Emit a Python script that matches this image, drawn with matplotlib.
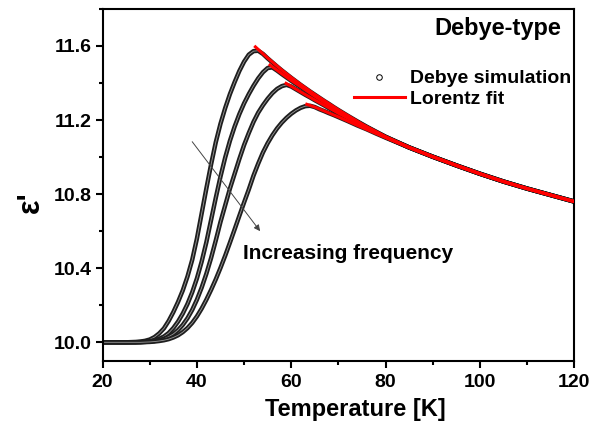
import matplotlib
matplotlib.use('Agg')
import matplotlib.pyplot as plt
from matplotlib.lines import Line2D
from matplotlib.ticker import MultipleLocator

plt.rcParams['font.family'] = ['Liberation Sans', 'DejaVu Sans']
plt.rcParams['font.weight'] = 'bold'

# temperature grid [K] shared by the four simulated curves
temps = list(range(20, 71)) + [72, 74, 76, 78, 80, 85, 90, 95, 100, 105, 110, 115, 120]

# common high temperature tail (T = 85 ... 120)
tail = [11.052, 11.002, 10.955, 10.91, 10.868, 10.83, 10.795, 10.76]

# Debye simulation, lowest to highest frequency
eps_f1 = [10.0] * 6 + [
    10.001, 10.002, 10.004, 10.008,
    10.015, 10.028, 10.048, 10.075, 10.115, 10.163, 10.218, 10.280, 10.355, 10.445,
    10.560, 10.695, 10.830, 10.960, 11.080, 11.180, 11.265, 11.340, 11.405, 11.465,
    11.515, 11.553, 11.572, 11.574, 11.557, 11.533, 11.511, 11.489, 11.468, 11.448,
    11.428, 11.409, 11.390, 11.372, 11.354, 11.337, 11.320, 11.303, 11.287, 11.270,
    11.254, 11.223, 11.193, 11.164, 11.137, 11.110] + tail
eps_f2 = [10.0] * 8 + [
    10.001, 10.003,
    10.006, 10.011, 10.019, 10.031, 10.050, 10.077, 10.112, 10.155, 10.207, 10.270,
    10.345, 10.435, 10.540, 10.660, 10.780, 10.895, 10.998, 11.088, 11.165, 11.232,
    11.290, 11.340, 11.385, 11.425, 11.458, 11.481, 11.484, 11.467, 11.448, 11.430,
    11.412, 11.395, 11.378, 11.361, 11.344, 11.327, 11.311, 11.295, 11.279, 11.263,
    11.247, 11.218, 11.190, 11.162, 11.135, 11.109] + tail
eps_f3 = [10.0] * 8 + [
    10.001, 10.002,
    10.004, 10.007, 10.012, 10.019, 10.030, 10.045, 10.066, 10.094, 10.130, 10.175,
    10.230, 10.295, 10.370, 10.455, 10.550, 10.650, 10.740, 10.830, 10.910, 10.990,
    11.065, 11.130, 11.190, 11.240, 11.280, 11.315, 11.345, 11.368, 11.383, 11.390,
    11.381, 11.366, 11.351, 11.336, 11.322, 11.307, 11.293, 11.279, 11.264, 11.250,
    11.236, 11.210, 11.184, 11.158, 11.133, 11.108] + tail
eps_f4 = [10.0] * 9 + [
    10.001,
    10.002, 10.004, 10.007, 10.011, 10.017, 10.026, 10.038, 10.055, 10.077, 10.105,
    10.140, 10.182, 10.230, 10.283, 10.340, 10.402, 10.468, 10.538, 10.610, 10.683,
    10.755, 10.825, 10.900, 10.965, 11.025, 11.075, 11.118, 11.155, 11.186, 11.212,
    11.234, 11.252, 11.266, 11.275, 11.277, 11.270, 11.258, 11.248, 11.237, 11.227,
    11.216, 11.194, 11.171, 11.150, 11.127, 11.105] + tail

# Lorentz fits
fit_t1 = [52.4, 55, 58, 60, 62, 65, 70, 75, 80, 85, 90, 95, 100, 105, 110, 115, 120]
fit_e1 = [11.595, 11.535, 11.47, 11.43, 11.392, 11.338, 11.255, 11.178, 11.11,
          11.052, 11.002, 10.955, 10.91, 10.868, 10.83, 10.795, 10.76]
fit_t2 = [55.5, 58, 60, 62, 65, 70, 75, 80, 85, 90, 95, 100, 105, 110, 115, 120]
fit_e2 = [11.497, 11.45, 11.414, 11.38, 11.328, 11.248, 11.175, 11.109,
          11.052, 11.002, 10.955, 10.91, 10.868, 10.83, 10.795, 10.76]
fit_t3 = [58.9, 60, 62, 65, 70, 75, 80, 85, 90, 95, 100, 105, 110, 115, 120]
fit_e3 = [11.398, 11.382, 11.352, 11.308, 11.237, 11.17, 11.108,
          11.052, 11.002, 10.955, 10.91, 10.868, 10.83, 10.795, 10.76]
fit_t4 = [63.3, 65, 70, 75, 80, 85, 90, 95, 100, 105, 110, 115, 120]
fit_e4 = [11.285, 11.27, 11.217, 11.16, 11.105, 11.052, 11.002, 10.955, 10.91,
          10.868, 10.83, 10.795, 10.76]

fig = plt.figure(figsize=(6, 4.24), dpi=100)
ax = fig.add_axes([0.171, 0.149, 0.786, 0.830])

for eps in [eps_f1, eps_f2, eps_f3, eps_f4]:
    # dense chain of open circles -> dark tube with a faint light core
    ax.plot(temps, eps, color='#1e1e1e', lw=3.2, solid_capstyle='round', zorder=2)
    ax.plot(temps, eps, color='white', lw=0.6, alpha=0.55, zorder=2)

for ft, fe in [(fit_t1, fit_e1), (fit_t2, fit_e2), (fit_t3, fit_e3), (fit_t4, fit_e4)]:
    ax.plot(ft, fe, color='#ff0000', lw=2.2, zorder=3)

ax.annotate('', xy=(53.4, 10.60), xytext=(39.0, 11.083),
            arrowprops=dict(arrowstyle='-|>', color='#444444', lw=0.7,
                            mutation_scale=9, shrinkA=0, shrinkB=0))
ax.text(49.8, 10.48, 'Increasing frequency', fontsize=15, fontweight='bold',
        ha='left', va='center')
ax.text(0.837, 0.943, 'Debye-type', transform=ax.transAxes, fontsize=17,
        fontweight='bold', ha='center', va='center')

handles = [Line2D([], [], ls='none', marker='o', ms=4, mfc='white', mec='black', mew=0.7),
           Line2D([], [], color='#ff0000', lw=2.2)]
ax.legend(handles, ['Debye simulation', 'Lorentz fit'], loc='center left',
          bbox_to_anchor=(0.533, 0.773), frameon=False,
          handlelength=2.6, handletextpad=0.3, labelspacing=0.15,
          borderpad=0, borderaxespad=0, prop={'weight': 'bold', 'size': 14})

ax.set_xlim(20, 120)
ax.set_ylim(9.9, 11.8)
ax.xaxis.set_major_locator(MultipleLocator(20))
ax.xaxis.set_minor_locator(MultipleLocator(10))
ax.set_yticks([10.0, 10.4, 10.8, 11.2, 11.6])
ax.yaxis.set_minor_locator(MultipleLocator(0.2))
ax.tick_params(which='both', direction='out', width=1.5, top=False, right=False,
               labelsize=14)
ax.tick_params(which='major', length=5)
ax.tick_params(which='minor', length=3)
ax.tick_params(axis='x', pad=4.5)
ax.tick_params(axis='y', pad=3)
for lab in ax.get_xticklabels() + ax.get_yticklabels():
    lab.set_fontweight('bold')
for sp in ax.spines.values():
    sp.set_linewidth(1.5)

ax.set_xlabel('Temperature [K]', fontsize=17, fontweight='bold')
ax.xaxis.set_label_coords(0.537, -0.105)
ax.set_ylabel("ε'", fontsize=22, fontweight='bold')
ax.yaxis.set_label_coords(-0.12, 0.45)

fig.savefig('out.png', dpi=100)
plt.close()
